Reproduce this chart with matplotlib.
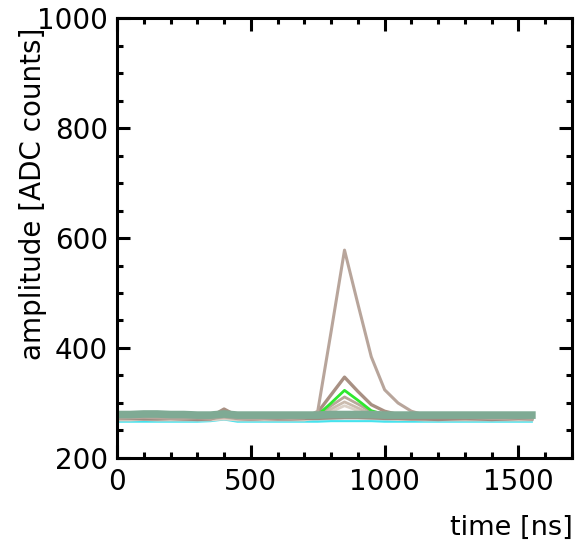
import matplotlib
matplotlib.use("Agg")
import matplotlib.pyplot as plt
from matplotlib.ticker import MultipleLocator

# sample times [ns], one sample every 50 ns
t = list(range(0, 1600, 50))

# waveforms (ADC counts) for each channel
big_pulse = [272, 273, 274, 273, 272, 272, 273, 272, 275, 272, 271, 272, 273, 272, 273, 285,
             430, 578, 480, 384, 324, 300, 285, 278, 276, 275, 274, 273, 272, 272, 273, 272]
mid_pulse = [274, 275, 275, 274, 274, 273, 274, 275, 289, 276, 274, 273, 274, 273, 274, 283,
             315, 347, 321, 297, 285, 279, 277, 276, 275, 274, 273, 275, 274, 273, 274, 274]
green_pulse = [276, 276, 277, 276, 276, 276, 277, 276, 278, 276, 276, 277, 276, 276, 277, 278,
               300, 323, 305, 286, 279, 277, 277, 276, 276, 277, 276, 276, 277, 276, 276, 277]
small_pulse1 = [273, 273, 274, 273, 273, 272, 273, 273, 276, 273, 272, 273, 273, 273, 273, 278,
                295, 311, 298, 284, 277, 275, 274, 273, 273, 273, 272, 273, 273, 272, 273, 273]
small_pulse2 = [271, 271, 272, 271, 271, 270, 271, 271, 274, 271, 270, 271, 271, 271, 271, 275,
                289, 302, 291, 280, 274, 272, 272, 271, 271, 271, 270, 271, 271, 270, 271, 271]
small_pulse3 = [269, 269, 270, 269, 269, 269, 269, 269, 271, 269, 269, 269, 269, 269, 269, 273,
                284, 295, 286, 277, 272, 270, 270, 269, 269, 269, 269, 269, 269, 269, 269, 269]
flat_low = [270, 270, 269, 270, 270, 269, 270, 270, 271, 270, 269, 269, 270, 270, 269, 270,
            271, 272, 272, 271, 270, 270, 270, 269, 270, 270, 269, 270, 270, 269, 270, 270]
flat_brown = [272, 272, 271, 271, 272, 271, 270, 271, 279, 272, 271, 272, 271, 271, 272, 272,
              273, 274, 274, 273, 272, 272, 271, 271, 270, 271, 272, 271, 270, 271, 272, 271]
cyan_trace = [266, 266, 266, 266, 266, 266, 266, 267, 270, 266, 266, 266, 266, 266, 266, 266,
              267, 267, 267, 267, 266, 266, 266, 266, 266, 266, 266, 266, 266, 266, 266, 266]
teal_trace = [279, 279, 280, 280, 279, 279, 278, 278, 280, 278, 278, 278, 278, 278, 278, 278,
              279, 279, 279, 279, 278, 278, 278, 278, 278, 278, 278, 278, 278, 278, 278, 278]

fig = plt.figure(figsize=(5.88, 5.51), dpi=100)
ax = fig.add_axes([0.199, 0.1688, 0.7738, 0.7985])

ax.plot(t, flat_low, color="#d2d2d2", lw=2.2)
ax.plot(t, cyan_trace, color="#45e3ee", lw=1.5)
ax.plot(t, small_pulse3, color="#dcd2c8", lw=2)
ax.plot(t, small_pulse2, color="#cbbcaf", lw=2)
ax.plot(t, small_pulse1, color="#b9a89a", lw=2)
ax.plot(t, flat_brown, color="#a08a80", lw=2.4)
ax.plot(t, mid_pulse, color="#a89083", lw=2.4)
ax.plot(t, green_pulse, color="#2ee82e", lw=2)
ax.plot(t, big_pulse, color="#b8a59b", lw=2.2)
ax.plot(t, teal_trace, color="#7faa94", lw=5.5)

ax.set_xlim(0, 1700)
ax.set_ylim(200, 1000)
ax.xaxis.set_major_locator(MultipleLocator(500))
ax.xaxis.set_minor_locator(MultipleLocator(100))
ax.yaxis.set_major_locator(MultipleLocator(200))
ax.yaxis.set_minor_locator(MultipleLocator(50))

for s in ax.spines.values():
    s.set_linewidth(2.2)
ax.tick_params(which="both", direction="in", top=True, right=True, width=2.2,
               labelsize=20, colors="black")
ax.tick_params(which="major", length=9.5)
ax.tick_params(which="minor", length=4.5)
ax.tick_params(axis="x", pad=7)
ax.tick_params(axis="y", pad=6.5)

fig.text(573 / 588, 1 - 528 / 551, "time [ns]", ha="right", va="center", fontsize=19.5)
fig.text(33 / 588, 1 - 194 / 551, "amplitude [ADC counts]", rotation=90,
         ha="center", va="center", fontsize=20)

fig.savefig("out.png", dpi=100)
